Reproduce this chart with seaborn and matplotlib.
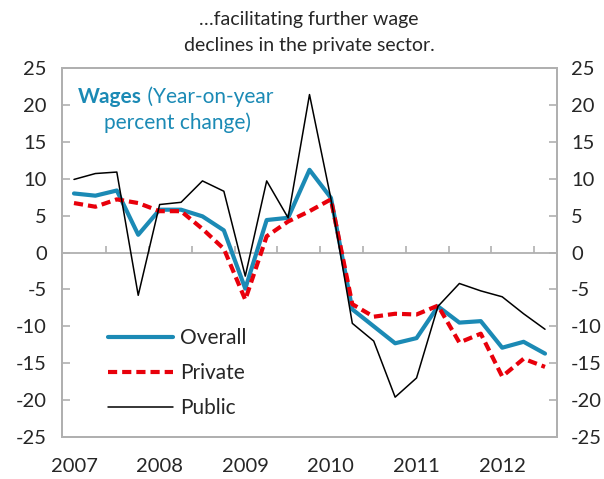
import matplotlib
matplotlib.use("Agg")
import matplotlib.pyplot as plt
import seaborn as sns
import pandas as pd
import numpy as np

# Quarterly data 2007Q1 - 2012Q3
quarters = list(range(23))
overall = [8.0, 7.7, 8.4, 2.4, 5.8, 5.8, 4.9, 3.0, -4.9, 4.4, 4.7, 11.2, 7.4,
           -7.7, -10.0, -12.3, -11.6, -7.3, -9.5, -9.3, -12.9, -12.1, -13.7]
private = [6.7, 6.2, 7.2, 6.7, 5.6, 5.6, 3.2, 0.5, -6.4, 2.2, 4.2, 5.6, 7.2,
           -7.0, -8.7, -8.3, -8.4, -7.2, -12.2, -11.0, -16.8, -14.4, -15.5]
public = [9.9, 10.7, 10.9, -5.8, 6.5, 6.8, 9.7, 8.3, -3.2, 9.7, 4.7, 21.4, 7.3,
          -9.6, -12.0, -19.6, -17.0, -7.3, -4.2, -5.2, -6.0, -8.3, -10.4]
year_labels = ["2007", "2008", "2009", "2010", "2011", "2012"]
year_pos = [0, 4, 8, 12, 16, 20]
y_ticks = [25, 20, 15, 10, 5, 0, -5, -10, -15, -20, -25]

sns.set_theme(style="white")
plt.rcParams['font.family'] = ['Lato', 'DejaVu Sans']
plt.rcParams['axes.unicode_minus'] = False

TEAL = "#1B8AB5"
RED = "#E8000B"
GRAY = "#B0B0B0"
FS = 14.5

fig = plt.figure(figsize=(6.04, 4.79), dpi=100)
ax = fig.add_axes([62/604, 1-437/479, (557-62)/604, (437-68)/479])

df = pd.DataFrame({"q": quarters, "Overall": overall, "Private": private, "Public": public})

sns.lineplot(data=df, x="q", y="Overall", ax=ax, color=TEAL, lw=3.0, label="Overall")
sns.lineplot(data=df, x="q", y="Private", ax=ax, color=RED, lw=3.0, label="Private")
ax.lines[-1].set_dashes([2.2, 1.2])
sns.lineplot(data=df, x="q", y="Public", ax=ax, color="black", lw=1.1, label="Public")

ax.set_xlim(-0.56, 22.56)
ax.set_ylim(-25, 25)
ax.axhline(0, color=GRAY, lw=1.3, zorder=1)

ax.set_xlabel("")
ax.set_ylabel("")
ax.set_xticks(year_pos)
ax.set_xticklabels(year_labels, fontsize=FS)
ax.tick_params(axis="x", length=0, pad=15)
ax.set_yticks(y_ticks)
ax.set_yticklabels([str(v) for v in y_ticks], fontsize=FS)
ax.tick_params(axis="y", direction="in", length=6, width=1.2, color=GRAY, pad=11,
               left=True)

ax2 = ax.twinx()
ax2.set_ylim(-25, 25)
ax2.set_yticks(y_ticks)
ax2.set_yticklabels([str(v) for v in y_ticks], fontsize=FS)
ax2.tick_params(axis="y", direction="in", length=6, width=1.2, color=GRAY, pad=10,
                right=True)
for a in (ax, ax2):
    for s in a.spines.values():
        s.set_color(GRAY)
        s.set_linewidth(1.3)

# tick marks on the zero line
sec = ax.secondary_xaxis(0.5)
sec.set_xticks(np.arange(1.5, 22.5, 2))
sec.xaxis.set_ticks_position("bottom")
sec.tick_params(axis="x", direction="in", length=5, width=1.2, color=GRAY,
                labelbottom=False, labeltop=False)
sec.spines["bottom"].set_visible(False)
sec.spines["top"].set_visible(False)

leg = ax.legend(loc="upper left", bbox_to_anchor=(0.055, 0.345), frameon=False,
                fontsize=15, handlelength=3.1, handletextpad=0.35, labelspacing=0.72)

t1 = ax.text((78-62)/495, (437-97)/369, "Wages", transform=ax.transAxes, color=TEAL,
             fontsize=15, fontweight="bold", ha="left", va="center")
ax.annotate(" (Year-on-year", xy=(1, 0.5), xycoords=t1, color=TEAL, fontsize=15,
            ha="left", va="center")
ax.text((177-62)/495, (437-123)/369, "percent change)", transform=ax.transAxes,
        color=TEAL, fontsize=15, ha="center", va="center")

fig.text(309/604, 1-19/479, "…facilitating further wage", ha="center", va="center",
         fontsize=14)
fig.text(309/604, 1-45/479, "declines in the private sector.", ha="center", va="center",
         fontsize=14)

fig.savefig("out.png", dpi=100)
